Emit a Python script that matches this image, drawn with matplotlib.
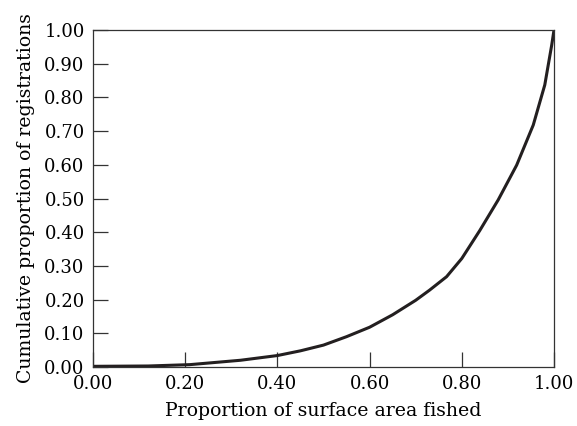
import matplotlib
matplotlib.use("Agg")
import matplotlib.pyplot as plt
import numpy as np

# Values
area_fished = [0.00, 0.12, 0.21, 0.32, 0.40, 0.45, 0.50, 0.55, 0.60, 0.65,
               0.70, 0.73, 0.767, 0.80, 0.839, 0.879, 0.919, 0.955, 0.980, 0.995, 1.00]
cum_registrations = [0.002, 0.003, 0.007, 0.020, 0.034, 0.048, 0.065, 0.090, 0.118, 0.155,
                     0.198, 0.228, 0.268, 0.322, 0.405, 0.496, 0.599, 0.718, 0.837, 0.955, 1.00]

x_ticks = [0.0, 0.2, 0.4, 0.6, 0.8, 1.0]
y_ticks = [0.0, 0.1, 0.2, 0.3, 0.4, 0.5, 0.6, 0.7, 0.8, 0.9, 1.0]

plt.rcParams['font.family'] = 'DejaVu Serif'

fig = plt.figure(figsize=(5.77, 4.26), dpi=100)
ax = fig.add_axes([93 / 577, 1 - 367 / 426, 461 / 577, 337 / 426])

ax.plot(area_fished, cum_registrations, color='#231f20', linewidth=2.2,
        solid_capstyle='butt', solid_joinstyle='round')

ax.set_xlim(0, 1)
ax.set_ylim(0, 1)
ax.set_xticks(x_ticks)
ax.set_yticks(y_ticks)
ax.set_xticklabels([f"{v:.2f}" for v in x_ticks])
ax.set_yticklabels([f"{v:.2f}" for v in y_ticks])
ax.tick_params(direction='in', length=11, width=0.9, color='#333333',
               labelsize=13, pad=6)

for s in ax.spines.values():
    s.set_linewidth(0.9)
    s.set_color('#333333')

ax.set_xlabel('Proportion of surface area fished', fontsize=13.6, labelpad=6)
ax.set_ylabel('Cumulative proportion of registrations', fontsize=13.6, labelpad=7)

fig.savefig('out.png', dpi=100)
